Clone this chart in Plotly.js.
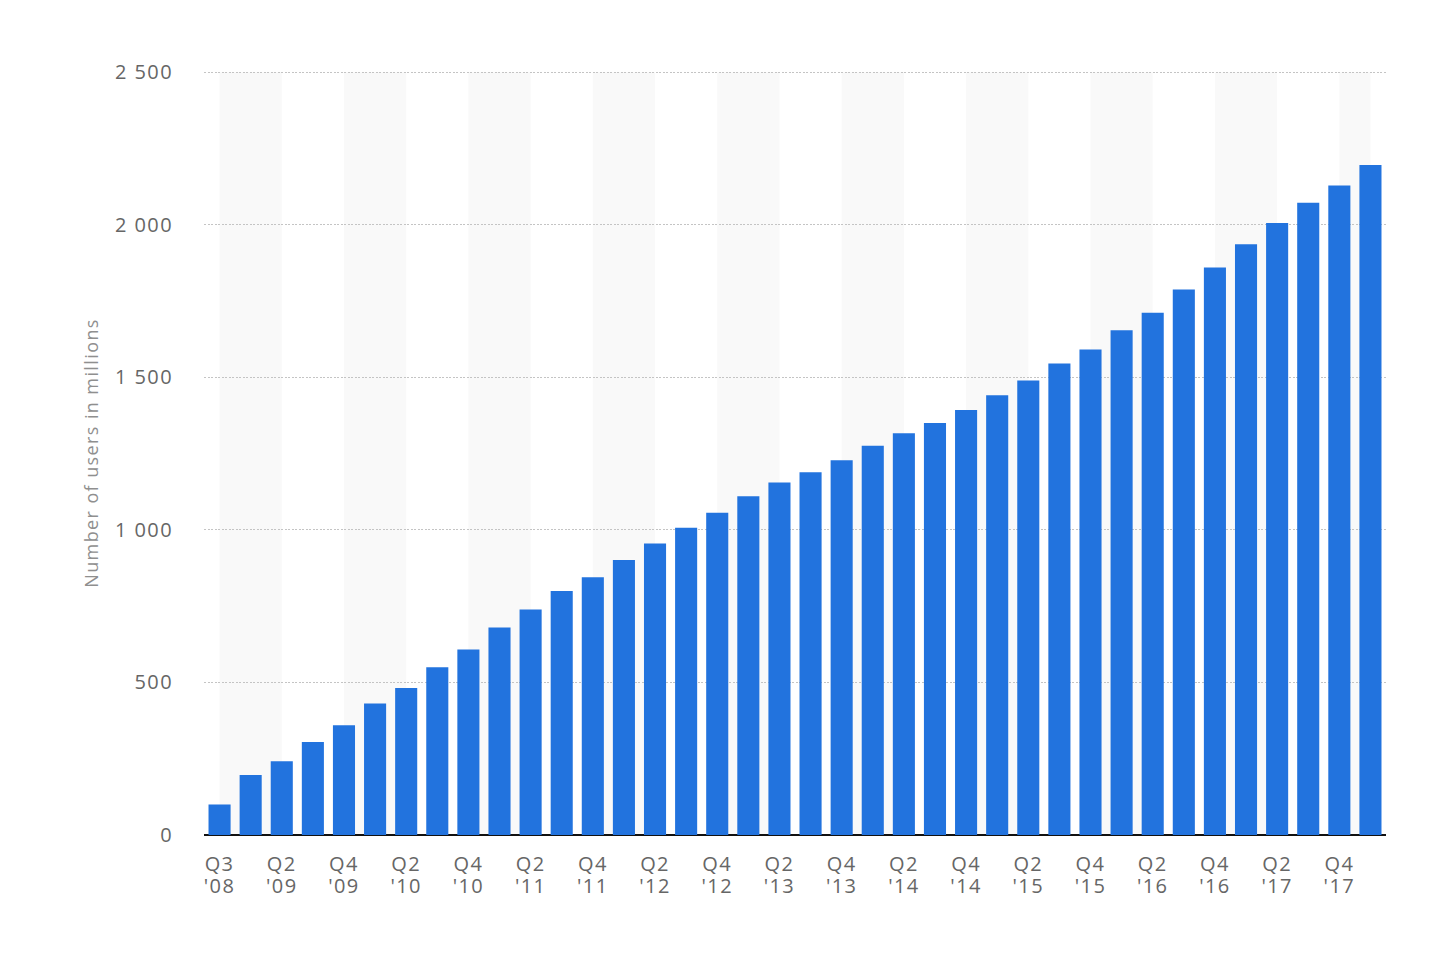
<!DOCTYPE html>
<html>
<head>
<meta charset="utf-8">
<script src="https://cdn.plot.ly/plotly-3.0.1.min.js"></script>
<style>
html,body{margin:0;padding:0;background:#fff;}
#chart{width:1434px;height:958px;}
#chart .xtick text, #chart .x2tick text, #chart .ytick text{letter-spacing:1.4px;}
#chart .ytitle{letter-spacing:1.4px;}
</style>
</head>
<body>
<div id="chart"></div>
<script>
const quarters = ["Q3 '08","Q1 '09","Q2 '09","Q3 '09","Q4 '09","Q1 '10","Q2 '10","Q3 '10","Q4 '10","Q1 '11","Q2 '11","Q3 '11","Q4 '11","Q1 '12","Q2 '12","Q3 '12","Q4 '12","Q1 '13","Q2 '13","Q3 '13","Q4 '13","Q1 '14","Q2 '14","Q3 '14","Q4 '14","Q1 '15","Q2 '15","Q3 '15","Q4 '15","Q1 '16","Q2 '16","Q3 '16","Q4 '16","Q1 '17","Q2 '17","Q3 '17","Q4 '17","Q1 '18"];
const users = [100,197,242,305,360,431,482,550,608,680,739,800,845,901,955,1007,1056,1110,1155,1189,1228,1276,1317,1350,1393,1441,1490,1545,1591,1654,1712,1788,1860,1936,2006,2072,2129,2196];
const yTicks = [0,500,1000,1500,2000,2500];
const yTitle = "Number of users in millions";

const n = quarters.length;
const idx = quarters.map((q, i) => i);
const tickIdx = idx.filter(i => i % 2 === 0);
const quarterText = tickIdx.map(i => quarters[i].split(' ')[0]);
const yearText = tickIdx.map(i => quarters[i].split(' ')[1]);

const shapes = [];
for (let i = 0; i < n; i += 4) {
  shapes.push({type:'rect', layer:'below', xref:'x', yref:'y',
    x0: i, x1: Math.min(i + 2, n - 1), y0: 0, y1: yTicks[yTicks.length - 1],
    fillcolor:'#f9f9f9', line:{width:0}});
}

const bars = {type:'bar', x: idx, y: users, marker:{color:'#2273de'},
  text: quarters, hovertemplate:'%{text}: %{y}<extra></extra>', textposition:'none'};
// invisible companion trace so the second (year) label row is drawn
const yearRow = {type:'scatter', mode:'markers', x: idx, y: users, xaxis:'x2', yaxis:'y',
  marker:{opacity:0}, hoverinfo:'skip', showlegend:false};

const tickFont = {size:20, color:'#666', family:'Open Sans, sans-serif'};
const xr = [-0.5, n - 0.5];

const layout = {
  width:1434, height:958,
  margin:{l:204, r:48, t:71, b:123},
  paper_bgcolor:'#fff', plot_bgcolor:'rgba(0,0,0,0)',
  bargap:0.29,
  separators:'. ',
  font:{family:'Open Sans, sans-serif', color:'#666'},
  showlegend:false,
  hovermode:'closest',
  shapes: shapes,
  xaxis:{type:'linear', range:xr,
    tickmode:'array', tickvals: tickIdx, ticktext: quarterText,
    tickfont:tickFont,
    ticks:'outside', ticklen:11, tickcolor:'rgba(0,0,0,0)',
    showgrid:false, showline:false, zeroline:false, fixedrange:true},
  xaxis2:{type:'linear', range:xr, overlaying:'x', anchor:'y', side:'bottom',
    tickmode:'array', tickvals: tickIdx, ticktext: yearText,
    tickfont:tickFont,
    ticks:'outside', ticklen:33, tickcolor:'rgba(0,0,0,0)',
    showgrid:false, showline:false, zeroline:false, fixedrange:true},
  yaxis:{range:[0,2504], tickmode:'array', tickvals:yTicks, tickformat:',d',
    tickfont:tickFont,
    ticks:'outside', ticklen:26, tickcolor:'rgba(0,0,0,0)',
    showgrid:true, gridcolor:'#c4c4c4', griddash:'2px,1.5px', gridwidth:1,
    zeroline:true, zerolinecolor:'#111', zerolinewidth:2,
    title:{text:yTitle, font:{size:18, color:'#8f8f8f', family:'Open Sans, sans-serif'}, standoff:18},
    fixedrange:true}
};

Plotly.newPlot('chart', [bars, yearRow], layout, {displayModeBar:false, responsive:false});
</script>
</body>
</html>
